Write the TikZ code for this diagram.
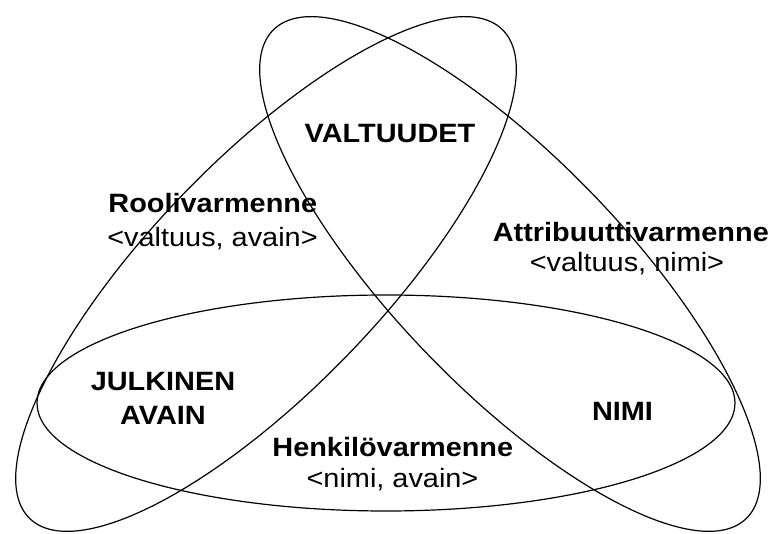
\documentclass[tikz,border=0pt]{standalone}
\usepackage{fontspec}
\setmainfont{Liberation Sans}[FakeStretch=1.09]
\usetikzlibrary{shapes.geometric}
\begin{document}
\begin{tikzpicture}[x=1pt,y=1pt,
  set/.style={ellipse, draw=black, line width=1.2pt, inner sep=0pt, outer sep=0pt},
  bold/.style={anchor=base, inner sep=0pt, font=\fontsize{26.5}{30}\selectfont\bfseries},
  plain/.style={anchor=base, inner sep=0pt, font=\fontsize{26.5}{30}\selectfont}]
\useasboundingbox (0,0) rectangle (774,533);
% three sets
\node[set, minimum width=680pt, minimum height=230pt, rotate=46] (L) at (266,259) {};
\node[set, minimum width=680pt, minimum height=230pt, rotate=-46] (R) at (510,259) {};
\node[set, minimum width=698pt, minimum height=216pt] (H) at (386,130) {};
% labels
\node[bold] (valt) at (390,390.5) {VALTUUDET};
\node[bold] (rool) at (212.8,320.3) {Roolivarmenne};
\node[plain] (roolb) at (212.5,286.5) {<valtuus, avain>};
\node[bold] (attr) at (630.8,291.5) {Attribuuttivarmenne};
\node[plain] (attrb) at (627,261) {<valtuus, nimi>};
\node[bold] (julk) at (163,142.3) {JULKINEN};
\node[bold] (avain) at (163,108) {AVAIN};
\node[bold] (henk) at (392.8,76.3) {Henkilövarmenne};
\node[plain] (henkb) at (392.5,45.7) {<nimi, avain>};
\node[bold] (nimi) at (622.5,112.7) {NIMI};
\end{tikzpicture}
\end{document}
